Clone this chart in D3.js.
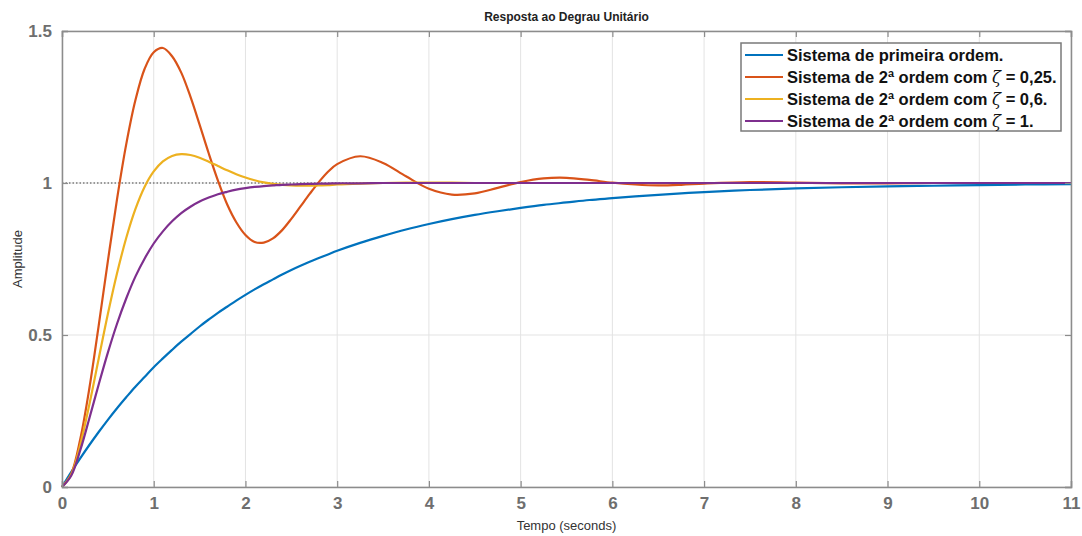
<!DOCTYPE html>
<html>
<head>
<meta charset="utf-8">
<script src="https://cdn.jsdelivr.net/npm/d3@7"></script>
<style>
  body { margin: 0; background: #fff; }
  svg { font-family: "Liberation Sans", Arial, sans-serif; }
</style>
</head>
<body>
<svg id="chart" width="1082" height="536"></svg>
<script>
// time samples (s)
var tempo = [0, 0.1, 0.2, 0.3, 0.4, 0.5, 0.6, 0.7, 0.8, 0.9, 1.0,
    1.1, 1.2, 1.3, 1.4, 1.5, 1.6, 1.7, 1.8, 1.9, 2.0,
    2.1, 2.2, 2.3, 2.4, 2.5, 2.6, 2.7, 2.8, 2.9, 3.0,
    3.25, 3.5, 3.75, 4.0, 4.25, 4.5, 4.75, 5.0, 5.25, 5.5, 5.75, 6.0,
    6.25, 6.5, 6.75, 7.0, 7.5, 8.0, 8.5, 9.0, 9.5, 10.0, 10.5, 11.0];

var primeiraOrdem = [0, 0.049, 0.095, 0.139, 0.181, 0.221, 0.259, 0.295, 0.330, 0.362, 0.394,
    0.423, 0.451, 0.478, 0.503, 0.528, 0.551, 0.573, 0.593, 0.613, 0.632,
    0.650, 0.667, 0.683, 0.699, 0.714, 0.728, 0.741, 0.753, 0.765, 0.777,
    0.803, 0.826, 0.847, 0.865, 0.881, 0.895, 0.907, 0.918, 0.928, 0.936, 0.944, 0.950,
    0.956, 0.961, 0.966, 0.970, 0.977, 0.982, 0.986, 0.989, 0.991, 0.993, 0.995, 0.996];

var zeta025 = [0, 0.043, 0.159, 0.328, 0.531, 0.743, 0.947, 1.127, 1.272, 1.375, 1.430,
    1.444, 1.417, 1.363, 1.284, 1.192, 1.097, 1.008, 0.930, 0.871, 0.829,
    0.806, 0.804, 0.818, 0.845, 0.882, 0.923, 0.964, 1.003, 1.037, 1.062,
    1.088, 1.066, 1.022, 0.981, 0.962, 0.966, 0.984, 1.003, 1.015, 1.017, 1.010, 1.001,
    0.995, 0.992, 0.994, 0.998, 1.003, 1.001, 0.999, 0.999, 1.000, 1.000, 1.000, 1.000];

var zeta06 = [0, 0.040, 0.140, 0.274, 0.422, 0.569, 0.703, 0.819, 0.914, 0.987, 1.038,
    1.071, 1.089, 1.095, 1.092, 1.083, 1.070, 1.056, 1.042, 1.029, 1.018,
    1.009, 1.002, 0.997, 0.994, 0.992, 0.991, 0.991, 0.992, 0.993, 0.995,
    0.998, 1.000, 1.001, 1.001, 1.001, 1.000, 1.000, 1.000, 1.000, 1.000, 1.000, 1.000,
    1.000, 1.000, 1.000, 1.000, 1.000, 1.000, 1.000, 1.000, 1.000, 1.000, 1.000, 1.000];

var zeta1 = [0, 0.037, 0.122, 0.228, 0.337, 0.442, 0.537, 0.620, 0.692, 0.751, 0.801,
    0.841, 0.874, 0.901, 0.922, 0.939, 0.952, 0.963, 0.971, 0.978, 0.983,
    0.987, 0.990, 0.992, 0.994, 0.995, 0.996, 0.997, 0.998, 0.998, 0.999,
    0.999, 1.000, 1.000, 1.000, 1.000, 1.000, 1.000, 1.000, 1.000, 1.000, 1.000, 1.000,
    1.000, 1.000, 1.000, 1.000, 1.000, 1.000, 1.000, 1.000, 1.000, 1.000, 1.000, 1.000];

var xTicks = [0, 1, 2, 3, 4, 5, 6, 7, 8, 9, 10, 11];
var yTicks = [0, 0.5, 1, 1.5];
var yTickLabels = ["0", "0.5", "1", "1.5"];

// legend text split around the zeta symbol (drawn italic)
var series = [
    {pre: "Sistema de primeira ordem.", zeta: "", post: "", values: primeiraOrdem, color: "#0072BD"},
    {pre: "Sistema de 2ª ordem com ", zeta: "ζ", post: " = 0,25.", values: zeta025, color: "#D95319"},
    {pre: "Sistema de 2ª ordem com ", zeta: "ζ", post: " = 0,6.", values: zeta06, color: "#EDB120"},
    {pre: "Sistema de 2ª ordem com ", zeta: "ζ", post: " = 1.", values: zeta1, color: "#7E2F8E"}
];

var margin = {top: 31, right: 11, bottom: 49, left: 62};
var width = 1082 - margin.left - margin.right;
var height = 536 - margin.top - margin.bottom;

var svg = d3.select("#chart");
var g = svg.append("g").attr("transform", "translate(" + margin.left + "," + margin.top + ")");

var x = d3.scaleLinear().domain([0, 11]).range([0, width]);
var y = d3.scaleLinear().domain([0, 1.5]).range([height, 0]);

// grid
g.selectAll(".vgrid").data(xTicks).enter().append("line")
    .attr("x1", function(d){ return x(d); }).attr("x2", function(d){ return x(d); })
    .attr("y1", 0).attr("y2", height)
    .attr("stroke", "#e3e3e3").attr("stroke-width", 1);
g.selectAll(".hgrid").data(yTicks).enter().append("line")
    .attr("x1", 0).attr("x2", width)
    .attr("y1", function(d){ return y(d); }).attr("y2", function(d){ return y(d); })
    .attr("stroke", "#e3e3e3").attr("stroke-width", 1);

// steady state reference
g.append("line")
    .attr("x1", x(0)).attr("x2", x(11))
    .attr("y1", y(1)).attr("y2", y(1))
    .attr("stroke", "#444").attr("stroke-width", 1.2)
    .attr("stroke-dasharray", "1.5,2");

// curves
var line = d3.line()
    .x(function(d, i){ return x(tempo[i]); })
    .y(function(d){ return y(d); })
    .curve(d3.curveCatmullRom.alpha(0.5));

g.selectAll(".serie").data(series).enter().append("path")
    .attr("d", function(s){ return line(s.values); })
    .attr("fill", "none")
    .attr("stroke", function(s){ return s.color; })
    .attr("stroke-width", 2.2);

// axes box and ticks
var axisColor = "#8c8c8c";
var xAxis = d3.axisBottom(x).tickValues(xTicks).tickSize(-6).tickPadding(10).tickFormat(d3.format("d"));
var xTop = d3.axisTop(x).tickValues(xTicks).tickSize(-6).tickFormat("");
var yAxis = d3.axisLeft(y).tickValues(yTicks).tickSize(-6).tickPadding(10)
    .tickFormat(function(d, i){ return yTickLabels[i]; });
var yRight = d3.axisRight(y).tickValues(yTicks).tickSize(-6).tickFormat("");

function styleAxis(sel){
    sel.select(".domain").attr("stroke", axisColor).attr("stroke-width", 1.5);
    sel.selectAll(".tick line").attr("stroke", axisColor).attr("stroke-width", 1.2);
    sel.selectAll("text").attr("fill", "#6e6e6e").style("font-size", "17px").style("font-weight", "bold");
}

g.append("g").attr("transform", "translate(0," + height + ")").call(xAxis).call(styleAxis);
g.append("g").call(xTop).call(styleAxis);
g.append("g").call(yAxis).call(styleAxis);
g.append("g").attr("transform", "translate(" + width + ",0)").call(yRight).call(styleAxis);

// labels
svg.append("text")
    .attr("x", margin.left + width / 2).attr("y", 21)
    .attr("text-anchor", "middle")
    .style("font-size", "12px").style("font-weight", "bold").attr("fill", "#222")
    .text("Resposta ao Degrau Unitário");

svg.append("text")
    .attr("x", margin.left + width / 2).attr("y", 530)
    .attr("text-anchor", "middle")
    .style("font-size", "13px").attr("fill", "#333")
    .text("Tempo (seconds)");

svg.append("text")
    .attr("transform", "translate(22," + (margin.top + height / 2) + ") rotate(-90)")
    .attr("text-anchor", "middle")
    .style("font-size", "13px").attr("fill", "#333")
    .text("Amplitude");

// legend
var legend = svg.append("g").attr("transform", "translate(741,43)");
legend.append("rect")
    .attr("width", 320).attr("height", 88)
    .attr("fill", "#fff").attr("stroke", "#7a7a7a").attr("stroke-width", 1.5);

var item = legend.selectAll(".item").data(series).enter().append("g")
    .attr("transform", function(d, i){ return "translate(0," + (12 + i * 22) + ")"; });
item.append("line")
    .attr("x1", 4).attr("x2", 42)
    .attr("stroke", function(d){ return d.color; }).attr("stroke-width", 2);
var txt = item.append("text")
    .attr("x", 46).attr("dy", "0.35em")
    .style("font-size", "16.5px").style("font-weight", "bold").attr("fill", "#111");
txt.append("tspan").text(function(d){ return d.pre; });
txt.append("tspan")
    .style("font-family", "'DejaVu Serif', serif").style("font-style", "italic").style("font-weight", "normal")
    .text(function(d){ return d.zeta; });
txt.append("tspan").text(function(d){ return d.post; });
</script>
</body>
</html>
